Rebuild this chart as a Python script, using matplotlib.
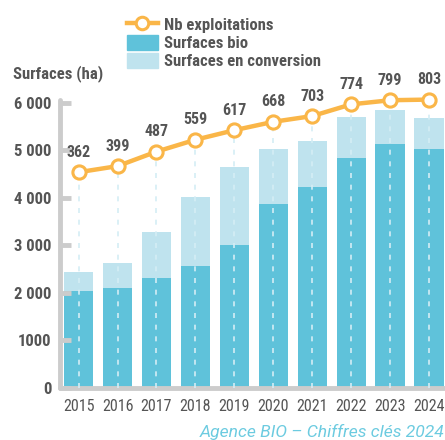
import matplotlib
matplotlib.use("Agg")
import matplotlib.pyplot as plt
from matplotlib.lines import Line2D
from matplotlib.patches import Patch

years = ["2015", "2016", "2017", "2018", "2019", "2020", "2021", "2022", "2023", "2024"]
surf_bio = [2030, 2095, 2305, 2565, 3000, 3865, 4220, 4830, 5135, 5020]
surf_conv = [400, 525, 970, 1445, 1640, 1155, 970, 865, 705, 655]
nb_exploit = [362, 399, 487, 559, 617, 668, 703, 774, 799, 803]
ytick_vals = [0, 1000, 2000, 3000, 4000, 5000, 6000]
ytick_labels = ["0", "1000", "2 000", "3 000", "4 000", "5 000", "6 000"]

C_BIO = "#5fc2da"
C_CONV = "#bfe3ee"
C_LINE = "#fab648"
C_TXT = "#555555"
C_AXIS = "#cccccc"

plt.rcParams["font.family"] = ["Roboto Condensed", "DejaVu Sans"]

fig = plt.figure(figsize=(4.45, 4.4), dpi=100)
ax = fig.add_axes([0.135, 0.119, 0.865, 0.653])
x = list(range(len(years)))

ax.bar(x, surf_bio, width=0.75, color=C_BIO, zorder=1)
ax.bar(x, surf_conv, bottom=surf_bio, width=0.75, color=C_CONV, zorder=1)
ax.set_xlim(-0.476, 9.41)
ax.set_ylim(0, 6050)

ax.set_yticks(ytick_vals)
ax.set_yticklabels(ytick_labels, fontsize=12, fontweight="bold", color=C_TXT)
ax.set_xticks(x)
ax.set_xticklabels(years, fontsize=11.5, color=C_TXT)
ax.tick_params(axis="y", direction="in", length=8, width=3.5, color=C_AXIS, pad=6)
ax.tick_params(axis="x", length=0, pad=8)
for s in ["top", "right"]:
    ax.spines[s].set_visible(False)
for s in ["left", "bottom"]:
    ax.spines[s].set_color(C_AXIS)
    ax.spines[s].set_linewidth(3.5)
    ax.spines[s].set_capstyle("round")

# line on secondary scale
ax2 = ax.twinx()
ax2.set_ylim(-946, 798.5)
ax2.axis("off")
ax2.vlines(x, -946, nb_exploit, colors="#d4edf5", linestyles=(0, (3, 4)), linewidth=1.2, zorder=1)
ax2.plot(x, nb_exploit, color=C_LINE, linewidth=3.2, marker="o", markersize=9.5,
         markerfacecolor="white", markeredgecolor=C_LINE, markeredgewidth=2.2,
         clip_on=False, zorder=3)
for xi, v in zip(x, nb_exploit):
    ax2.annotate(str(v), (xi, v), xytext=(0, 9), textcoords="offset points",
                 ha="center", va="bottom", fontsize=11.5, fontweight="bold", color=C_TXT,
                 annotation_clip=False)

handles = [
    Line2D([0], [0], color=C_LINE, linewidth=3.2, marker="o", markersize=9,
           markerfacecolor="white", markeredgecolor=C_LINE, markeredgewidth=2.2),
    Patch(color=C_BIO),
    Patch(color=C_CONV),
]
leg = fig.legend(handles, ["Nb exploitations", "Surfaces bio", "Surfaces en conversion"],
                 loc="upper left", bbox_to_anchor=(0.285, 0.962), frameon=False,
                 borderpad=0, borderaxespad=0,
                 handlelength=1.85, handleheight=1.0, handletextpad=0.4,
                 labelspacing=0.12, prop={"size": 12, "weight": "bold"})
for t in leg.get_texts():
    t.set_color(C_TXT)

fig.text(0.03, 0.832, "Surfaces (ha)", fontsize=12, fontweight="bold", color=C_TXT,
         ha="left", va="center")
fig.text(0.998, 0.018, "Agence BIO – Chiffres clés 2024", fontsize=12.6, style="italic",
         color="#6ccbe0", ha="right", va="center", family=["Roboto", "DejaVu Sans"])

fig.savefig("out.png", dpi=100)
